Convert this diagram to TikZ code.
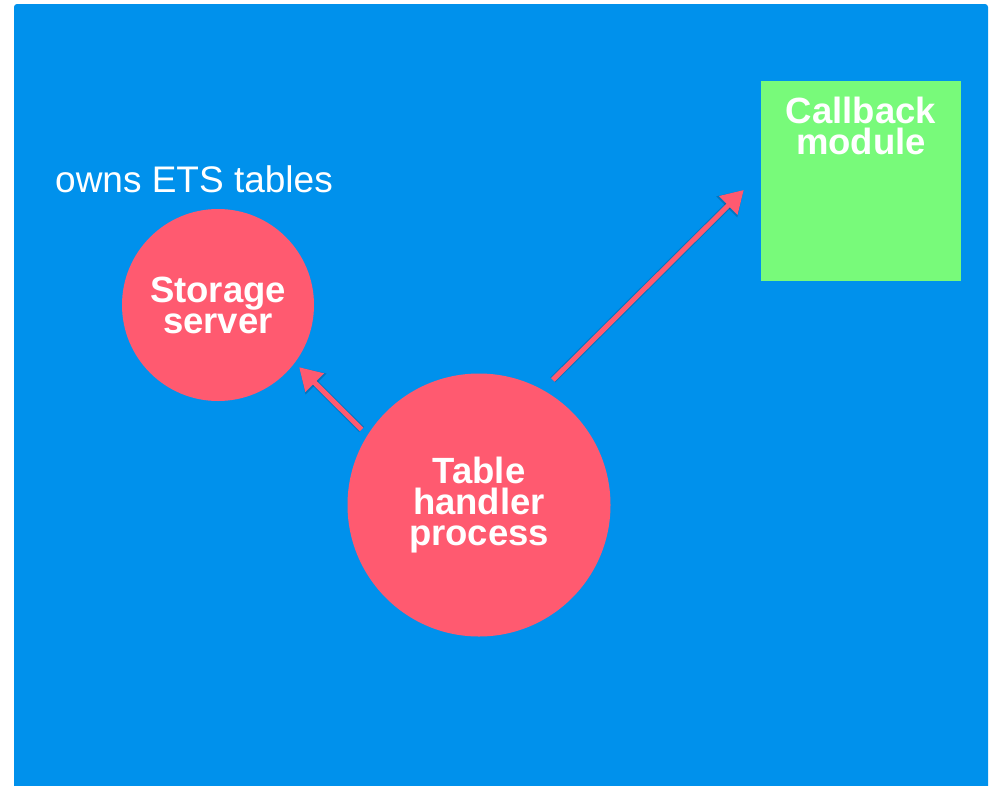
\documentclass[tikz,border=0pt]{standalone}
\usepackage{fontspec}
\setmainfont{Liberation Sans}
\usetikzlibrary{arrows.meta}

\definecolor{panelblue}{RGB}{0,145,236}
\definecolor{procpink}{RGB}{255,90,112}
\definecolor{modgreen}{RGB}{120,250,122}

\tikzset{
  proc/.style={circle, fill=procpink, draw=none, inner sep=0pt,
    text=white, align=center, font=\bfseries\fontsize{36.5}{31}\selectfont},
  modbox/.style={rectangle, fill=modgreen, draw=none, inner sep=0pt,
    minimum width=200pt, minimum height=200pt},
  boxtext/.style={text=white, align=center, inner sep=0pt,
    font=\bfseries\fontsize{36.5}{31}\selectfont},
  note/.style={text=white, inner sep=0pt, font=\fontsize{37}{40}\selectfont},
  link/.style={draw=procpink, line width=5pt,
    -{Triangle[length=22pt,width=25pt]}},
  linkshadow/.style={draw=black, opacity=0.18, line width=7pt,
    -{Triangle[length=24pt,width=28pt]}}
}

\begin{document}
\begin{tikzpicture}[x=1pt,y=-1pt]
  \useasboundingbox (0,0) rectangle (990,785);

  % background panel
  \fill[panelblue, rounded corners=3pt] (14,4) rectangle (988,792);

  % processes and the callback module
  \node[proc, minimum size=192pt] (storage) at (218,305) {Storage\\server};
  \node[proc, minimum size=263pt] (handler) at (479,505) {Table\\handler\\process};
  \node[modbox] (callback) at (861,181) {};
  \node[boxtext, anchor=north] (cbtext) at (861,97) {Callback\\module};

  % annotation
  \node[note, anchor=base west] (owns) at (55,192) {owns ETS tables};

  % soft shadows under the arrows
  \begin{scope}[shift={(2,3)}]
    \draw[linkshadow, shorten <=8pt, shorten >=6pt] (handler.148) -- (storage.-37);
    \draw[linkshadow, shorten <=14pt, shorten >=24pt] (handler.61) -- ([yshift=8pt]callback.west);
  \end{scope}

  % arrows
  \draw[link, shorten <=8pt, shorten >=6pt] (handler.148) -- (storage.-37);
  \draw[link, shorten <=14pt, shorten >=24pt] (handler.61) -- ([yshift=8pt]callback.west);
\end{tikzpicture}
\end{document}
